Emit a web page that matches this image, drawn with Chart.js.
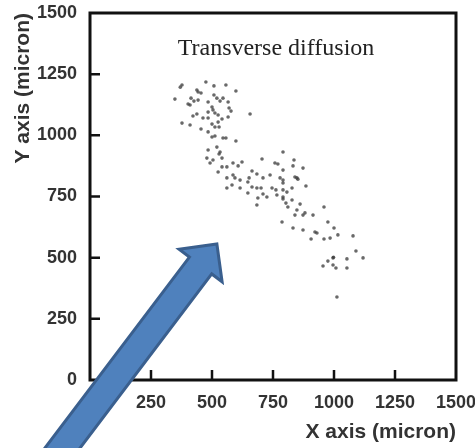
<!DOCTYPE html>
<html>
<head>
<meta charset="utf-8">
<script src="https://cdn.jsdelivr.net/npm/chart.js@4/dist/chart.umd.min.js"></script>
<style>
  body { margin: 0; background: #fff; }
  #wrap { width: 475px; height: 448px; position: relative; }
</style>
</head>
<body>
<div id="wrap"><canvas id="scatter"></canvas></div>
<script>
// positions of the tracked particles, in micron
const xValues = [
  370, 377, 348, 475, 508, 557, 598, 438, 443, 455, 414, 426, 443, 410, 402, 484,
  508, 520, 533, 545, 566, 500, 570, 578, 504, 512, 525, 484, 422, 438, 463, 484,
  541, 566, 656, 377, 410, 500, 512, 529, 525, 455, 484, 500, 512, 545, 557, 598,
  484, 520, 533, 479, 504, 541, 529, 492, 586, 623, 607, 541, 561, 525, 705, 664,
  684, 561, 586, 594, 615, 652, 647, 709, 561, 582, 615, 664, 684, 701, 647, 709,
  688, 725, 684,
  791, 758, 770, 836, 832, 873, 791, 738, 779, 791, 840, 848, 852, 791, 885, 746,
  762, 791, 807, 828, 766, 791, 791, 803, 828, 861, 811, 848, 873, 881, 840, 914,
  959, 787, 975,
  832, 873, 922, 930, 906, 959, 984, 1000, 1016, 1078, 1090, 1119, 996, 998, 975, 955,
  996, 1008, 1053, 1053, 1012
];
const yValues = [
  1197, 1206, 1148, 1218, 1202, 1206, 1181, 1185, 1177, 1173, 1152, 1140, 1144, 1124, 1128, 1136,
  1165, 1152, 1140, 1152, 1136, 1116, 1112, 1099, 1104, 1091, 1083, 1095, 1079, 1087, 1071, 1071,
  1067, 1075, 1087, 1050, 1042, 1046, 1034, 1034, 1054, 1026, 1014, 993, 997, 989, 989, 977,
  940, 952, 932, 907, 899, 907, 924, 887, 887, 891, 875, 871, 871, 850, 903, 854,
  842, 826, 838, 826, 817, 826, 809, 826, 785, 797, 785, 789, 785, 785, 764, 760,
  744, 748, 715,
  932, 887, 883, 899, 875, 866, 858, 838, 826, 817, 830, 826, 821, 805, 793, 785,
  777, 777, 768, 785, 756, 748, 740, 723, 736, 719, 707, 695, 674, 683, 674, 674,
  707, 646, 646,
  621, 613, 605, 601, 576, 576, 580, 621, 593, 589, 527, 499, 499, 502, 486, 466,
  470, 458, 495, 458, 339
];
const tickValues = [0, 250, 500, 750, 1000, 1250, 1500];
const plotTitle = "Transverse diffusion";

// arrow annotation, tail and tip in axis units
const arrowTail = [-172, -356];
const arrowTip = [520, 556];

const points = xValues.map((x, i) => ({ x: x, y: yValues[i] }));

Chart.defaults.font.family = "'Liberation Sans', Arial, sans-serif";

// box round the plot, inward tick marks and the caption inside the plot
const framePlugin = {
  id: "frame",
  beforeDatasetsDraw(chart) {
    const { ctx, chartArea: a, scales } = chart;
    ctx.save();
    ctx.strokeStyle = "#111";
    ctx.lineWidth = 3;
    ctx.strokeRect(a.left, a.top, a.right - a.left, a.bottom - a.top);
    ctx.lineWidth = 2.5;
    ctx.beginPath();
    tickValues.slice(1, -1).forEach(v => {
      const px = scales.x.getPixelForValue(v);
      ctx.moveTo(px, a.bottom);
      ctx.lineTo(px, a.bottom - 10);
      const py = scales.y.getPixelForValue(v);
      ctx.moveTo(a.left, py);
      ctx.lineTo(a.left + 10, py);
    });
    ctx.stroke();
    ctx.fillStyle = "#222";
    ctx.font = "24px 'Liberation Serif', 'Times New Roman', serif";
    ctx.textAlign = "center";
    ctx.textBaseline = "alphabetic";
    ctx.fillText(plotTitle, (a.left + a.right) / 2 + 3, a.top + 42);
    ctx.restore();
  }
};

// block arrow drawn over the whole chart
const arrowPlugin = {
  id: "arrow",
  afterDraw(chart) {
    const { ctx, scales } = chart;
    const tx = scales.x.getPixelForValue(arrowTail[0]);
    const ty = scales.y.getPixelForValue(arrowTail[1]);
    const hx = scales.x.getPixelForValue(arrowTip[0]);
    const hy = scales.y.getPixelForValue(arrowTip[1]);
    const len = Math.hypot(hx - tx, hy - ty);
    const dx = (hx - tx) / len, dy = (hy - ty) / len;
    const nx = -dy, ny = dx;
    const shaft = 14, head = 27, headLen = 27;
    const bx = hx - dx * headLen, by = hy - dy * headLen;
    ctx.save();
    ctx.beginPath();
    ctx.moveTo(tx + nx * shaft, ty + ny * shaft);
    ctx.lineTo(bx + nx * shaft, by + ny * shaft);
    ctx.lineTo(bx + nx * head, by + ny * head);
    ctx.lineTo(hx, hy);
    ctx.lineTo(bx - nx * head, by - ny * head);
    ctx.lineTo(bx - nx * shaft, by - ny * shaft);
    ctx.lineTo(tx - nx * shaft, ty - ny * shaft);
    ctx.closePath();
    ctx.fillStyle = "#4f81bd";
    ctx.fill();
    ctx.lineJoin = "miter";
    ctx.lineWidth = 3;
    ctx.strokeStyle = "#3a5f8e";
    ctx.stroke();
    ctx.restore();
  }
};

new Chart(document.getElementById("scatter"), {
  type: "scatter",
  data: {
    datasets: [{
      data: points,
      pointRadius: 1.8,
      pointHoverRadius: 1.8,
      pointBorderWidth: 0,
      backgroundColor: "rgba(55,55,55,0.75)"
    }]
  },
  options: {
    responsive: true,
    maintainAspectRatio: false,
    animation: false,
    layout: { padding: { top: 13, right: 19, left: 0, bottom: 0 } },
    plugins: {
      legend: { display: false },
      tooltip: { enabled: false }
    },
    scales: {
      x: {
        type: "linear",
        min: 0,
        max: 1500,
        grid: { display: false },
        border: { display: false },
        afterBuildTicks: s => { s.ticks = tickValues.map(v => ({ value: v })); },
        afterFit: s => { s.height = 68; s.paddingLeft = 0; s.paddingRight = 0; },
        ticks: {
          autoSkip: false,
          maxRotation: 0,
          padding: 4,
          color: "#333",
          font: { size: 18, weight: "bold" },
          callback: v => String(v)
        },
        title: {
          display: true,
          text: "X axis (micron)",
          align: "end",
          color: "#333",
          font: { size: 21, weight: "bold" },
          padding: { top: 0, bottom: 3 }
        }
      },
      y: {
        type: "linear",
        min: 0,
        max: 1500,
        grid: { display: false },
        border: { display: false },
        afterBuildTicks: s => { s.ticks = tickValues.map(v => ({ value: v })); },
        afterFit: s => { s.width = 90; s.paddingTop = 0; s.paddingBottom = 0; },
        ticks: {
          autoSkip: false,
          padding: 5,
          color: "#333",
          font: { size: 18, weight: "bold" },
          callback: v => String(v)
        },
        title: {
          display: true,
          text: "Y axis (micron)",
          align: "end",
          color: "#333",
          font: { size: 21, weight: "bold" },
          padding: { top: 11, bottom: 0 }
        }
      }
    }
  },
  plugins: [framePlugin, arrowPlugin]
});
</script>
</body>
</html>
